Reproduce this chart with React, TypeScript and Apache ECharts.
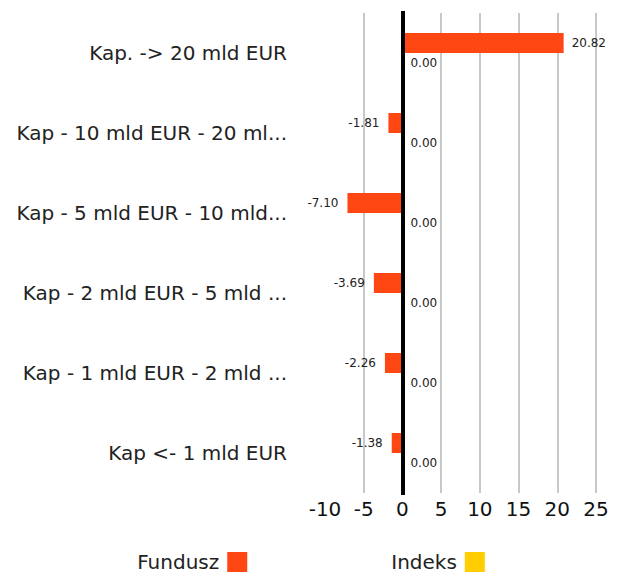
import React, { useEffect, useRef } from "react";
import * as echarts from "echarts";

const categories = [
  "Kap. -> 20 mld EUR",
  "Kap - 10 mld EUR - 20 ml...",
  "Kap - 5 mld EUR - 10 mld...",
  "Kap - 2 mld EUR - 5 mld ...",
  "Kap - 1 mld EUR - 2 mld ...",
  "Kap <- 1 mld EUR",
];
const funduszValues = [20.82, -1.81, -7.1, -3.69, -2.26, -1.38];
const indeksValues = [0, 0, 0, 0, 0, 0];
const seriesNames = ["Fundusz", "Indeks"];

const FONT = "DejaVu Sans";

export default function App() {
  const ref = useRef<HTMLDivElement>(null);
  useEffect(() => {
    document.body.style.margin = "0";
    if (!ref.current) return;
    const chart = echarts.init(ref.current, undefined, { renderer: "svg" });
    const valueLabel = (v: number) => ({
      show: true,
      position: v < 0 ? "left" : "right",
      distance: v < 0 ? 9 : 8,
      fontSize: 12,
      color: "#222",
      fontFamily: FONT,
      formatter: (p: any) => Number(p.value).toFixed(2),
    });
    chart.setOption({
      animation: false,
      grid: { left: 325, right: 26, top: 13, bottom: 81, containLabel: false },
      legend: {
        bottom: 2,
        padding: 0,
        left: "center",
        align: "right",
        itemWidth: 20,
        itemHeight: 20,
        itemGap: 144,
        icon: "rect",
        textStyle: { fontSize: 20, color: "#222", fontFamily: FONT, padding: [0, 3, 0, 0] },
        data: seriesNames,
      },
      xAxis: {
        type: "value",
        min: -10,
        max: 25,
        interval: 5,
        axisLine: { show: false },
        axisTick: { show: false },
        axisLabel: { fontSize: 20, color: "#111", margin: 6, fontFamily: FONT },
        splitLine: {
          show: true,
          showMinLine: false,
          lineStyle: { color: "#c8c8c8", width: 2 },
        },
      },
      yAxis: {
        type: "category",
        inverse: true,
        data: categories,
        axisLine: { show: false },
        axisTick: { show: false },
        splitLine: { show: false },
        axisLabel: { fontSize: 20, color: "#222", margin: 38, fontFamily: FONT },
      },
      series: [
        {
          name: seriesNames[0],
          type: "bar",
          barWidth: 20,
          barGap: "0%",
          itemStyle: { color: "#ff4713" },
          data: funduszValues.map((v) => ({ value: v, label: valueLabel(v) })),
          markLine: {
            silent: true,
            symbol: "none",
            label: { show: false },
            lineStyle: { color: "#000", width: 4, type: "solid", cap: "square" },
            data: [{ xAxis: 0 }],
            z: 10,
          },
        },
        {
          name: seriesNames[1],
          type: "bar",
          barWidth: 20,
          barGap: "0%",
          itemStyle: { color: "#ffcd00" },
          data: indeksValues.map((v) => ({ value: v, label: valueLabel(v) })),
        },
      ],
    });
    return () => chart.dispose();
  }, []);
  return <div ref={ref} style={{ width: 622, height: 574 }} />;
}
